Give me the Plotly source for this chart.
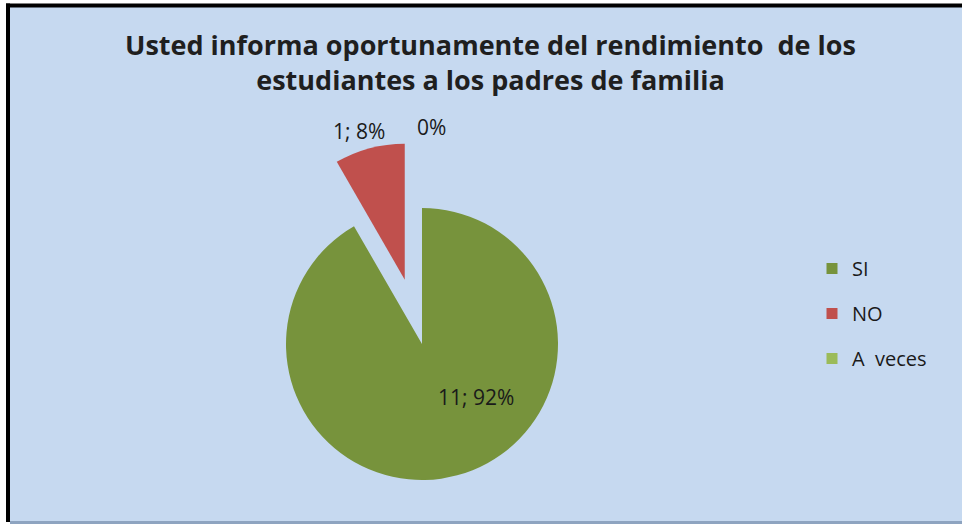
import math
import plotly.graph_objects as go

# ---- data ----
categories = ["SI", "NO", "A  veces"]
values = [11, 1, 0]
colors = ["#77933c", "#c0504d", "#9bbb59"]
title_lines = ["Usted informa oportunamente del rendimiento  de los",
               "estudiantes a los padres de familia"]

W, H = 962, 525
total = sum(values)
pcts = [round(v / total * 100) for v in values]

# pie geometry (pixels)
cx, cy, r = 422, 344, 136
pull_idx = 1
pull = 0.49

def dom(cxp, cyp, rad):
    return dict(x=[(cxp - rad) / W, (cxp + rad) / W],
                y=[1 - (cyp + rad) / H, 1 - (cyp - rad) / H])

# offset of the pulled slice along its bisector (clockwise from 12 o'clock)
start = sum(values[:pull_idx]) / total * 360
mid = start + values[pull_idx] / total * 360 / 2
d = pull * r
ox = d * math.sin(math.radians(mid))
oy = -d * math.cos(math.radians(mid))

fig = go.Figure()

main_colors = [c if i != pull_idx else "rgba(0,0,0,0)" for i, c in enumerate(colors)]
fig.add_trace(go.Pie(
    labels=categories, values=values, sort=False, direction="clockwise", rotation=0,
    marker=dict(colors=main_colors, line=dict(width=0)),
    textinfo="none", hoverinfo="label+value+percent", showlegend=False,
    domain=dom(cx, cy, r)))

pulled_colors = [c if i == pull_idx else "rgba(0,0,0,0)" for i, c in enumerate(colors)]
fig.add_trace(go.Pie(
    labels=categories, values=values, sort=False, direction="clockwise", rotation=0,
    marker=dict(colors=pulled_colors, line=dict(width=0)),
    textinfo="none", hoverinfo="skip", showlegend=False,
    domain=dom(cx + ox, cy + oy, r)))

# legend entries
for i, (lab, col) in enumerate(zip(categories, colors)):
    fig.add_trace(go.Scatter(
        x=[None], y=[None], mode="markers", name=lab,
        marker=dict(symbol="square", size=11, color=col),
        legendgroup=f"g{i}", showlegend=True))

# data labels
label_pos = [(476, 397), (359, 131), (431, 127)]
label_txt = [f"{values[0]}; {pcts[0]}%", f"{values[1]}; {pcts[1]}%", f"{pcts[2]}%"]
annotations = []
for (px, py), t in zip(label_pos, label_txt):
    annotations.append(dict(x=px / W, y=1 - py / H, xref="paper", yref="paper",
                            xanchor="center", yanchor="middle",
                            text=t, showarrow=False,
                            font=dict(family="Open Sans", size=21, color="#1a1a1a")))

annotations.append(dict(x=490 / W, y=1 - 62 / H, xref="paper", yref="paper",
                        xanchor="center", yanchor="middle",
                        text="<b>" + "<br>".join(title_lines) + "</b>", showarrow=False,
                        font=dict(family="Open Sans", size=27, color="#1f1f1f")))

shapes = [
    dict(type="rect", xref="paper", yref="paper", x0=10 / W, x1=1, y0=1 - 521 / H, y1=1 - 7 / H,
         fillcolor="#c6d9f0", line=dict(width=0), layer="below"),
    dict(type="rect", xref="paper", yref="paper", x0=6 / W, x1=1, y0=1 - 7.5 / H, y1=1 - 3.5 / H,
         fillcolor="#000000", line=dict(width=0), layer="below"),
    dict(type="rect", xref="paper", yref="paper", x0=6 / W, x1=10 / W, y0=1 - 522 / H, y1=1 - 3.5 / H,
         fillcolor="#000000", line=dict(width=0), layer="below"),
    dict(type="rect", xref="paper", yref="paper", x0=10 / W, x1=1, y0=1 - 524 / H, y1=1 - 521 / H,
         fillcolor="#8ea4c0", line=dict(width=0), layer="below"),
]

fig.update_layout(
    width=W, height=H, margin=dict(l=0, r=0, t=0, b=0),
    paper_bgcolor="#ffffff", plot_bgcolor="rgba(0,0,0,0)",
    xaxis=dict(visible=False), yaxis=dict(visible=False),
    annotations=annotations, shapes=shapes,
    legend=dict(x=812 / W, y=1 - 249 / H, xanchor="left", yanchor="top",
                bgcolor="rgba(0,0,0,0)", tracegroupgap=16, itemwidth=30,
                font=dict(family="Open Sans", size=20, color="#1a1a1a")),
)

fig.write_html("out.html", config={"displayModeBar": False},
               post_script="document.body.style.margin='0';")
